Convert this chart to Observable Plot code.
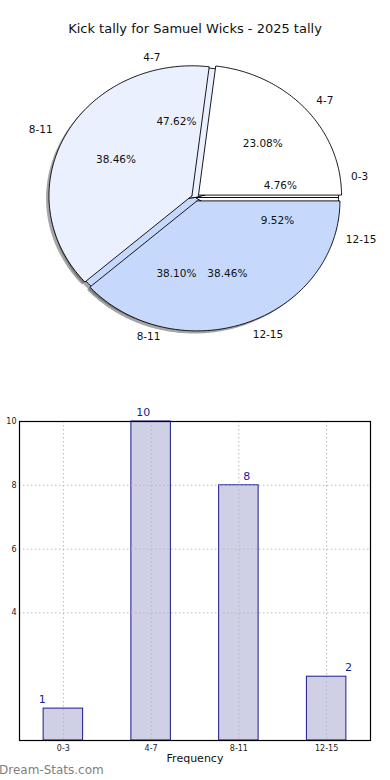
<!DOCTYPE html>
<html>
<head>
<meta charset="utf-8">
<script src="https://cdn.jsdelivr.net/npm/d3@7"></script>
<script src="https://cdn.jsdelivr.net/npm/@observablehq/plot@0.6"></script>
<style>
  html, body { margin: 0; padding: 0; background: #fff; width: 390px; height: 780px; overflow: hidden; }
  body { position: relative; font-family: "DejaVu Sans", sans-serif; }
  #title { position: absolute; left: 0; top: 21px; width: 390px; text-align: center; font-size: 13px; color: #111; }
  #pie { position: absolute; left: 0; top: 40px; }
  #bars { position: absolute; left: 0; top: 400px; }
  #mark { position: absolute; left: -1px; top: 763px; font-size: 12px; color: #7f7f7f; font-weight: normal; }
  svg { overflow: visible; }
</style>
</head>
<body>
<div id="title">Kick tally for Samuel Wicks - 2025 tally</div>
<div id="pie"></div>
<div id="bars"></div>
<div id="mark">Dream-Stats.com</div>
<script>
// ---- data ----
const categories = ["0-3", "4-7", "8-11", "12-15"];
const counts = [1, 10, 8, 2];
const overlayCategories = ["4-7", "8-11", "12-15"];
const overlayCounts = [3, 5, 5];
const sliceColors = ["#ffffff", "#eaf0fe", "#c6d9fd", "#ffffff"];
const yTicks = [4, 6, 8, 10];

// ---- pie geometry (angles counter-clockwise from east, like matplotlib) ----
function wedges(cats, vals, explode, key) {
  const total = d3.sum(vals);
  const ends = d3.cumsum(vals);
  return cats.map((c, i) => {
    const a0 = (ends[i] - vals[i]) / total * 2 * Math.PI;
    const a1 = ends[i] / total * 2 * Math.PI;
    const mid = (a0 + a1) / 2;
    return {
      key, id: key + i, cat: c, value: vals[i], pct: vals[i] / total * 100,
      a0, a1, mid, ox: explode * Math.cos(mid), oy: explode * Math.sin(mid),
      color: sliceColors[i]
    };
  });
}
const pieA = wedges(categories, counts, 0.0, "A");
const pieB = wedges(overlayCategories, overlayCounts, 0.028, "B");

function polygon(w) {
  const pts = [{id: w.id, x: w.ox, y: w.oy, color: w.color}];
  const n = Math.max(2, Math.ceil((w.a1 - w.a0) / (Math.PI / 180)));
  for (let k = 0; k <= n; k++) {
    const a = w.a0 + (w.a1 - w.a0) * k / n;
    pts.push({id: w.id, x: w.ox + Math.cos(a), y: w.oy + Math.sin(a), color: w.color});
  }
  pts.push({id: w.id, x: w.ox, y: w.oy, color: w.color});
  return pts;
}
const polyA = pieA.filter(w => w.value > 0).flatMap(polygon);
const polyB = pieB.filter(w => w.value > 0).flatMap(polygon);
const allWedges = pieA.concat(pieB).filter(w => w.value > 0);

const pctLabels = allWedges.map(w => ({
  x: w.ox + 0.6 * Math.cos(w.mid), y: w.oy + 0.6 * Math.sin(w.mid),
  text: w.pct.toFixed(2) + "%"
}));
const catLabels = allWedges.map(w => ({
  x: w.ox + 1.1 * Math.cos(w.mid), y: w.oy + 1.1 * Math.sin(w.mid), text: w.cat
}));

const pie = Plot.plot({
  width: 390, height: 320,
  margin: 0,
  x: {domain: [-195 / 143, 195 / 143], axis: null},
  y: {domain: [-163 / 130, 157 / 130], axis: null},
  style: {fontFamily: "DejaVu Sans, sans-serif", background: "transparent"},
  marks: [
    // shadows
    Plot.line(polyA, {x: d => d.x - 0.02, y: d => d.y - 0.02, z: "id", fill: "#4d4d4d", fillOpacity: 0.5, stroke: "none", curve: "linear"}),
    Plot.line(polyB, {x: d => d.x - 0.02, y: d => d.y - 0.02, z: "id", fill: "#4d4d4d", fillOpacity: 0.5, stroke: "none", curve: "linear"}),
    // wedges
    Plot.line(polyA, {x: "x", y: "y", z: "id", fill: "color", stroke: "#000", strokeWidth: 0.9, curve: "linear"}),
    Plot.line(polyB, {x: "x", y: "y", z: "id", fill: "color", stroke: "#000", strokeWidth: 0.9, curve: "linear"}),
    // labels
    Plot.text(pctLabels, {x: "x", y: "y", text: "text", fontSize: 10.5, fill: "#111"}),
    Plot.text(catLabels.filter(d => d.x >= 0), {x: "x", y: "y", text: "text", textAnchor: "start", fontSize: 10.5, fill: "#111"}),
    Plot.text(catLabels.filter(d => d.x < 0), {x: "x", y: "y", text: "text", textAnchor: "end", fontSize: 10.5, fill: "#111"})
  ]
});
document.getElementById("pie").appendChild(pie);

// ---- bar chart ----
const labelShift = [-0.24, -0.09, 0.09, 0.25];
const bars = Plot.plot({
  width: 390, height: 370,
  marginTop: 21, marginBottom: 30, marginLeft: 19, marginRight: 20,
  x: {domain: [-0.5, 3.5], axis: null},
  y: {domain: [0, 10], axis: null},
  style: {fontFamily: "DejaVu Sans, sans-serif", background: "transparent"},
  marks: [
    Plot.rectY(counts, {x1: (d, i) => i - 0.225, x2: (d, i) => i + 0.225, y1: 0, y2: d => d, fill: "#cfcfe5", stroke: "#1a1a8c", strokeWidth: 1}),
    Plot.ruleY(yTicks.filter(t => t < 10), {stroke: "#b8b8b8", strokeDasharray: "1.5,2.5", strokeWidth: 1}),
    Plot.ruleX(d3.range(categories.length), {stroke: "#b8b8b8", strokeDasharray: "1.5,2.5", strokeWidth: 1}),
    Plot.text(counts, {x: (d, i) => i + labelShift[i], y: d => d, dy: -9, text: d => String(d), fill: "#1c1c9c", fontSize: 11}),
    Plot.axisX(d3.range(categories.length), {tickFormat: i => categories[i], tickSize: 0, tickPadding: 5, fontSize: 8, label: null, fill: "#222"}),
    Plot.axisY(yTicks, {tickSize: 0, tickPadding: 3, fontSize: 8, label: null, fill: "#222"}),
    Plot.text(["Frequency"], {frameAnchor: "bottom", dy: 21, text: d => d, fontSize: 11, fill: "#111"}),
    Plot.frame({stroke: "#000", strokeWidth: 1.2})
  ]
});
document.getElementById("bars").appendChild(bars);
</script>
</body>
</html>
